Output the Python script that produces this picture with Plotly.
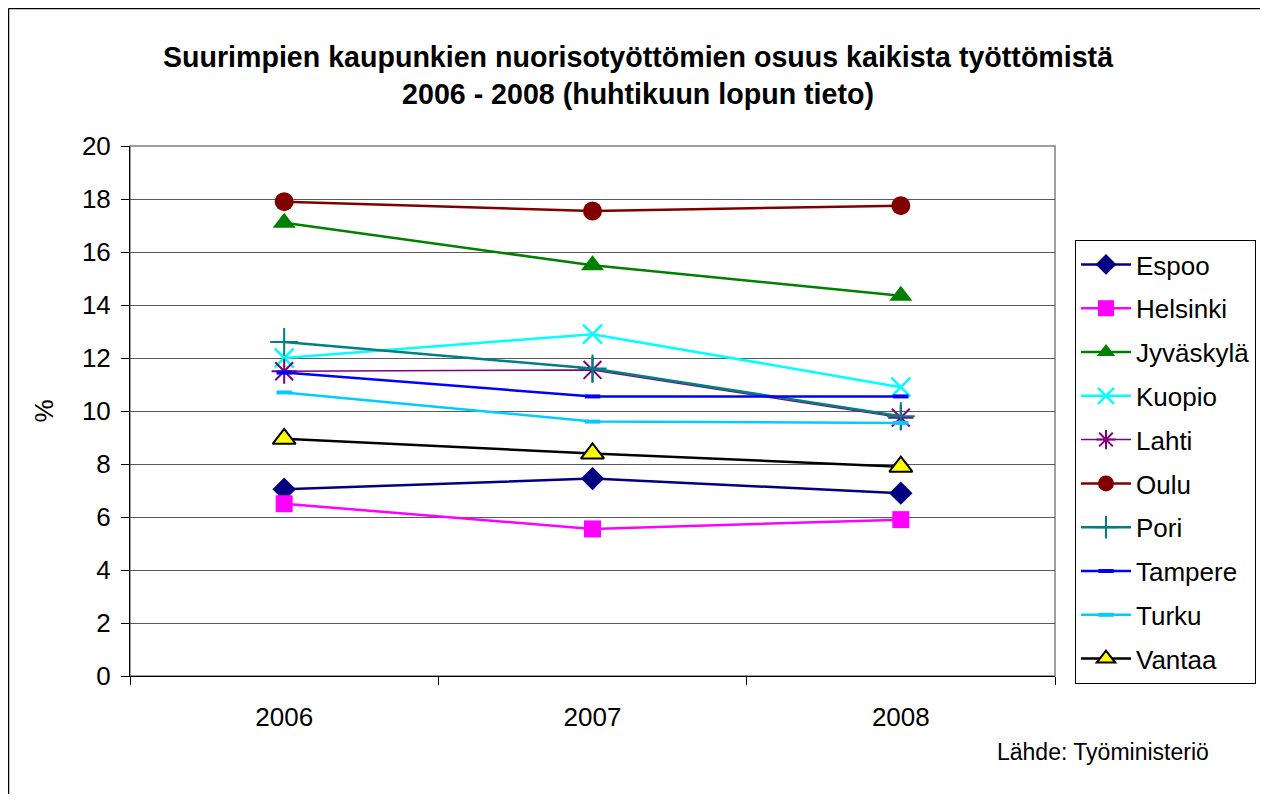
import plotly.graph_objects as go

years = ["2006", "2007", "2008"]

espoo = [7.05, 7.45, 6.9]
helsinki = [6.5, 5.55, 5.9]
jyvaskyla = [17.1, 15.5, 14.35]
kuopio = [12.0, 12.9, 10.9]
lahti = [11.5, 11.55, 9.75]
oulu = [17.9, 17.55, 17.75]
pori = [12.6, 11.6, 9.8]
tampere = [11.45, 10.55, 10.55]
turku = [10.7, 9.6, 9.55]
vantaa = [8.95, 8.4, 7.9]

y_ticks = [0, 2, 4, 6, 8, 10, 12, 14, 16, 18, 20]

FONT = "Arial, Liberation Sans, sans-serif"

series = [
    ("Espoo", espoo, dict(color="#000080", width=2.5),
     dict(symbol="diamond", size=18, color="#000080", line=dict(width=0))),
    ("Helsinki", helsinki, dict(color="#FF00FF", width=2.5),
     dict(symbol="square", size=17, color="#FF00FF", line=dict(width=0))),
    ("Jyväskylä", jyvaskyla, dict(color="#008000", width=2.5),
     dict(symbol="triangle-up", size=20, color="#008000", line=dict(width=0))),
    ("Kuopio", kuopio, dict(color="#00FFFF", width=2.5),
     dict(symbol="x-thin", size=19, color="#00FFFF", line=dict(width=2.5, color="#00FFFF"))),
    ("Lahti", lahti, dict(color="#800080", width=1.5),
     dict(symbol="asterisk", size=21, color="#800080", line=dict(width=2, color="#800080"))),
    ("Oulu", oulu, dict(color="#800000", width=2.5),
     dict(symbol="circle", size=19, color="#800000", line=dict(width=0))),
    ("Pori", pori, dict(color="#008080", width=2.5),
     dict(symbol="cross-thin", size=20, color="#008080", line=dict(width=2, color="#008080"))),
    ("Tampere", tampere, dict(color="#0000FF", width=2.5),
     dict(symbol="line-ew", size=11, color="#0000FF", line=dict(width=4, color="#0000FF"))),
    ("Turku", turku, dict(color="#00CCFF", width=2.5),
     dict(symbol="line-ew", size=11, color="#00CCFF", line=dict(width=4, color="#00CCFF"))),
    ("Vantaa", vantaa, dict(color="#000000", width=2.5),
     dict(symbol="triangle-up", size=20, color="#FFFF00", line=dict(width=2, color="#000000"))),
]

fig = go.Figure()
for name, vals, ln, mk in series:
    fig.add_trace(go.Scatter(x=years, y=vals, name=name, mode="lines+markers",
                             legendgroup=name, line=ln, marker=mk))

# page has an 8px body margin; the figure is drawn from page (8, 8)
OFF = 8
W, H = 1260, 786
L, R, T, B = 130 - OFF, 1055 - OFF, 146 - OFF, 676 - OFF
pw, ph = R - L, B - T


def px(x):
    return (x - OFF - L) / pw


def py(y):
    return (B - (y - OFF)) / ph


fig.update_layout(
    width=W, height=H,
    margin=dict(l=L, r=W - R, t=T, b=H - B, pad=0, autoexpand=False),
    paper_bgcolor="white", plot_bgcolor="white",
    font=dict(family=FONT, size=26, color="black"),
    title=dict(
        text="<b>Suurimpien kaupunkien nuorisotyöttömien osuus kaikista työttömistä<br>2006 - 2008 (huhtikuun lopun tieto)</b>",
        x=(638 - OFF) / W, xref="container", xanchor="center",
        y=1 - (67 - OFF) / H, yref="container", yanchor="middle",
        font=dict(family=FONT, size=28.6, color="black"),
    ),
    xaxis=dict(
        type="category", tickson="boundaries", ticks="outside", ticklen=8,
        tickcolor="black", showline=True, linecolor="black", linewidth=1,
        showgrid=False, tickfont=dict(size=26), range=[-0.5, 2.5],
        ticklabelstandoff=18,
    ),
    yaxis=dict(
        range=[0, 20], tickvals=y_ticks, ticks="outside", ticklen=8,
        tickcolor="black", showline=True, linecolor="black", linewidth=1,
        showgrid=True, gridcolor="#5a5a5a", gridwidth=1, zeroline=False,
        tickfont=dict(size=26), ticklabelstandoff=5,
        title=dict(text="%", font=dict(size=26), standoff=20),
    ),
    legend=dict(
        x=px(1075), y=py(240), xanchor="left", yanchor="top",
        bordercolor="black", borderwidth=1, bgcolor="white",
        font=dict(size=26), itemwidth=50, tracegroupgap=7,
    ),
    showlegend=True,
)

shapes = [
    # plot area border (gray)
    dict(type="rect", xref="paper", yref="paper", x0=0, x1=1, y0=0, y1=1,
         line=dict(color="#808080", width=1.5), layer="below"),
    # outer chart frame: only the top and left edges are visible in the reference
    dict(type="line", xref="paper", yref="paper", x0=px(8.5), x1=px(1275),
         y0=py(8.5), y1=py(8.5), line=dict(color="black", width=1.5)),
    dict(type="line", xref="paper", yref="paper", x0=px(8.5), x1=px(8.5),
         y0=py(8.5), y1=py(810), line=dict(color="black", width=1.5)),
]
fig.update_layout(shapes=shapes)

fig.add_annotation(x="2008", y=lahti[2], xref="x", yref="y", text="Lahti",
                   showarrow=False, xanchor="left", yanchor="middle", xshift=16,
                   font=dict(size=26))
fig.add_annotation(x=px(995), y=py(752), xref="paper", yref="paper",
                   text="Lähde: Työministeriö", showarrow=False,
                   xanchor="left", yanchor="middle", font=dict(size=23))

fig.write_html("out.html")
